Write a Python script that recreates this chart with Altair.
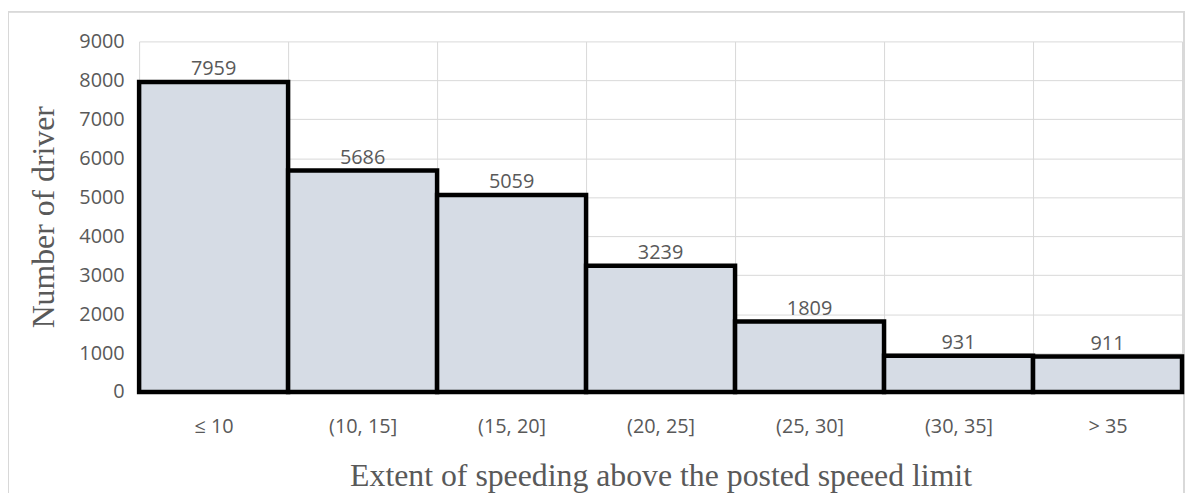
import altair as alt
import pandas as pd

categories = ["≤ 10", "(10, 15]", "(15, 20]", "(20, 25]", "(25, 30]", "(30, 35]", "> 35"]
drivers = [7959, 5686, 5059, 3239, 1809, 931, 911]
y_ticks = [0, 1000, 2000, 3000, 4000, 5000, 6000, 7000, 8000, 9000]

df = pd.DataFrame({"cat": categories, "n": drivers})

x = alt.X("cat:N", sort=categories, scale=alt.Scale(paddingInner=0, paddingOuter=0),
          axis=alt.Axis(title="Extent of speeding above the posted speeed limit", labelAngle=0,
                        labelPadding=25, tickBand="extent", grid=True,
                        domainColor="#595959", domainWidth=3, titlePadding=24))
y = alt.Y("n:Q", scale=alt.Scale(domain=[0, 9000], nice=False),
          axis=alt.Axis(title="Number of driver", values=y_ticks, format="d",
                        labelOverlap=False, labelPadding=15, domain=False, grid=True,
                        titlePadding=18))

base = alt.Chart(df).encode(x=x, y=y)
bars = base.mark_bar(fill="#d6dce5", stroke="black", strokeWidth=4.5)
labels = base.mark_text(dy=-7, baseline="alphabetic", font="Open Sans", fontSize=20,
                        color="#595959").encode(text="n:Q")

frame = alt.Chart(df).mark_rect(fill=None, stroke="#d9d9d9", strokeWidth=1.5).encode(
    x=alt.value(-132), x2=alt.value(1052), y=alt.value(-30), y2=alt.value(470))

chart = (frame + bars + labels).properties(
    width=1050, height=353,
    autosize=alt.AutoSizeParams(type="none"),
    padding={"left": 132, "top": 32, "right": 4, "bottom": 100},
).configure_view(stroke=None).configure_axis(
    labelFont="Open Sans", labelFontSize=20, labelColor="#595959", ticks=False,
    gridColor="#d9d9d9", titleFont="Liberation Serif", titleFontSize=32,
    titleFontWeight="normal", titleColor="#595959",
)

chart.save("out.html", embed_options={"renderer": "svg", "actions": False})
